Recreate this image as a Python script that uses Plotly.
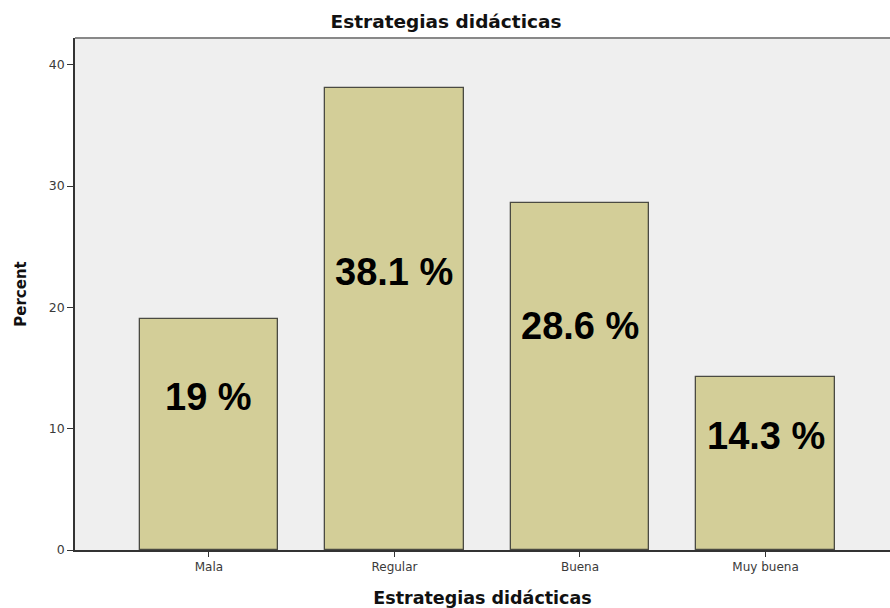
import plotly.graph_objects as go

categories = ["Mala", "Regular", "Buena", "Muy buena"]
percent = [19.0, 38.1, 28.6, 14.3]
bar_labels = ["19 %", "38.1 %", "28.6 %", "14.3 %"]
label_y = [12.6, 22.9, 18.5, 9.4]
y_ticks = [0, 10, 20, 30, 40]

LAB_FONT = "Liberation Sans, Arial, sans-serif"
TXT_FONT = "DejaVu Sans, Verdana, sans-serif"

fig = go.Figure()
fig.add_trace(go.Bar(
    x=list(range(len(categories))), y=percent,
    width=0.745,
    marker=dict(color="#d3ce98", line=dict(color="#4a4a42", width=1.3)),
    hoverinfo="skip",
))

for i, (lab, ly) in enumerate(zip(bar_labels, label_y)):
    fig.add_annotation(x=i, y=ly, text="<b>" + lab + "</b>", showarrow=False,
                       font=dict(family=LAB_FONT, size=38, color="#000000"),
                       xanchor="center", yanchor="middle")

fig.update_layout(
    width=890, height=608,
    margin=dict(l=75, r=0, t=38, b=58, autoexpand=False),
    paper_bgcolor="white", plot_bgcolor="#efefef",
    showlegend=False, bargap=0,
    title=dict(text="<b>Estrategias didácticas</b>", x=446 / 890, xanchor="center",
               y=1 - 22 / 608, yanchor="middle",
               font=dict(family=TXT_FONT, size=18.5, color="#111111")),
    xaxis=dict(
        range=[-0.722, 3.671], automargin=False,
        tickmode="array", tickvals=list(range(len(categories))), ticktext=categories,
        ticks="outside", ticklen=5, tickcolor="#333333", tickwidth=1.3,
        showline=True, linecolor="#333333", linewidth=1.5,
        showgrid=False, zeroline=False,
        tickfont=dict(family=TXT_FONT, size=12, color="#3a3a3a"),
        title=dict(text="<b>Estrategias didácticas</b>", standoff=19,
                   font=dict(family=TXT_FONT, size=17.5, color="#111111")),
    ),
    yaxis=dict(
        range=[0, 42.2], automargin=False,
        tickmode="array", tickvals=y_ticks,
        ticks="outside", ticklen=6, tickcolor="#333333", tickwidth=1.3,
        showline=True, linecolor="#333333", linewidth=1.5,
        showgrid=False, zeroline=False,
        tickfont=dict(family=TXT_FONT, size=12.5, color="#3a3a3a"),
        title=dict(text="<b>Percent</b>", standoff=19,
                   font=dict(family=TXT_FONT, size=15, color="#111111")),
    ),
)

fig.add_shape(type="line", xref="paper", yref="paper", x0=0, x1=1, y0=1, y1=1,
              line=dict(color="#888888", width=2))

fig.write_html("out.html",
               config={"displayModeBar": False},
               post_script="document.body.style.margin='0px';document.body.style.overflow='hidden';")
